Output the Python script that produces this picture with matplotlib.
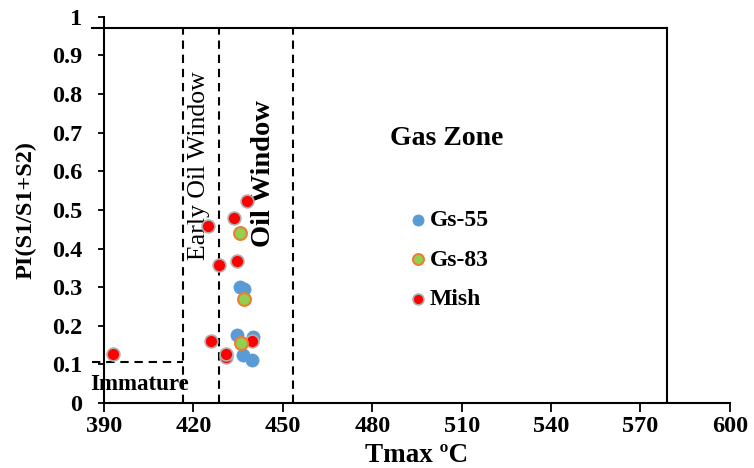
import matplotlib.pyplot as plt

plt.rcParams['font.family'] = ['Liberation Serif', 'DejaVu Serif']
plt.rcParams['font.weight'] = 'bold'

# data
gs55_x = [435.6, 437.0, 434.7, 440.0, 436.7, 439.8]
gs55_y = [0.300, 0.295, 0.175, 0.172, 0.125, 0.110]

gs83_x = [435.6, 436.8, 435.8]
gs83_y = [0.440, 0.268, 0.155]

mish_x = [393.0, 425.0, 428.5, 425.8, 430.9, 430.9, 433.7, 434.7, 437.8, 439.8]
mish_y = [0.128, 0.458, 0.358, 0.160, 0.118, 0.128, 0.480, 0.368, 0.523, 0.160]

x_ticks = [390, 420, 450, 480, 510, 540, 570, 600]
y_ticks = [0, 0.1, 0.2, 0.3, 0.4, 0.5, 0.6, 0.7, 0.8, 0.9, 1]
y_tick_labels = ['0', '0.1', '0.2', '0.3', '0.4', '0.5', '0.6', '0.7', '0.8', '0.9', '1']

# zone boundaries
early_oil = 416.5
oil_start = 428.5
oil_end = 453.5
gas_end = 579
top_line = 0.97
immature_y = 0.105

fig = plt.figure(figsize=(7.54, 4.68), dpi=100)
ax = fig.add_axes([0.138, 0.139, 0.830, 0.825])

# zone lines
ax.plot([386, gas_end], [top_line, top_line], color='black', lw=1.5, clip_on=False)
ax.plot([gas_end, gas_end], [0, top_line], color='black', lw=1.5)
for xv in [early_oil, oil_start, oil_end]:
    ax.plot([xv, xv], [0, top_line], color='black', lw=1.5, ls=(0, (4, 2.8)))
ax.plot([386, early_oil], [immature_y, immature_y], color='black', lw=1.5,
        ls=(0, (4, 2.8)), clip_on=False)

ax.scatter(gs55_x, gs55_y, s=90, color='#5B9BD5', edgecolors='#5B9BD5',
           linewidths=0.5, label='Gs-55', zorder=3)
ax.scatter(mish_x, mish_y, s=85, color='#FF0000', edgecolors='#AFAFAF',
           linewidths=1.2, label='Mish', zorder=4)
ax.scatter(gs83_x, gs83_y, s=85, color='#92D050', edgecolors='#ED7D31',
           linewidths=1.5, label='Gs-83', zorder=5)

h, l = ax.get_legend_handles_labels()
order = [0, 2, 1]
ax.legend([h[i] for i in order], [l[i] for i in order], frameon=False,
          loc='upper left', bbox_to_anchor=(0.449, 0.555), labelspacing=0.75,
          handlelength=1.0, handletextpad=0.0, markerscale=0.85,
          prop={'size': 17, 'weight': 'bold'})

ax.text(505, 0.685, 'Gas Zone', fontsize=20, fontweight='bold', ha='center', va='center')
ax.text(422, 0.615, 'Early Oil Window', fontsize=18.5, fontweight='normal',
        rotation=90, ha='center', va='center')
ax.text(443.5, 0.594, 'Oil Window', fontsize=20.5, fontweight='bold',
        rotation=90, ha='center', va='center')
ax.text(402, 0.047, 'Immature', fontsize=16.5, fontweight='bold', ha='center', va='center')

ax.set_xlim(390, 600)
ax.set_ylim(0, 1)
ax.set_xticks(x_ticks)
ax.set_yticks(y_ticks)
ax.set_yticklabels(y_tick_labels)
ax.tick_params(labelsize=17.5, width=1.3, direction='out')
ax.tick_params(axis='x', length=6.5, pad=3)
ax.tick_params(axis='y', length=4.5, pad=11)
for lab in ax.get_xticklabels() + ax.get_yticklabels():
    lab.set_fontweight('bold')

ax.spines['top'].set_visible(False)
ax.spines['right'].set_visible(False)
ax.spines['left'].set_linewidth(1.5)
ax.spines['bottom'].set_linewidth(1.5)

ax.set_xlabel('Tmax ºC', fontsize=19.5, fontweight='bold', labelpad=4)
ax.set_ylabel('PI(S1/S1+S2)', fontsize=17.5, fontweight='bold', labelpad=11)

fig.savefig('out.png', dpi=100)
